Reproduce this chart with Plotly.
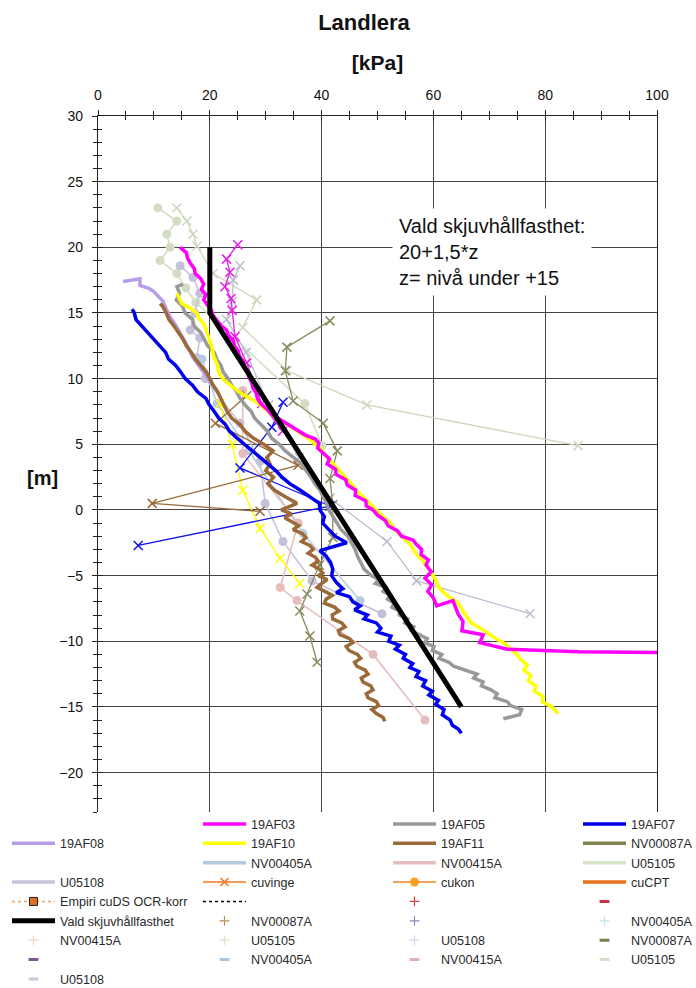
import plotly.graph_objects as go

FONT = "Liberation Sans, Arial, Helvetica, sans-serif"

# ---------------- data: (elevation [m], shear strength [kPa]) ----------------
# CPT-derived profiles
AF03 = [(20.0, 14.7), (19.6, 15.8), (19.2, 16.0), (18.8, 16.5), (18.4, 17.2), (18.0, 17.4),
        (17.6, 18.4), (17.2, 18.9), (16.8, 18.5), (16.4, 19.3), (16.0, 18.9), (15.6, 19.6),
        (15.2, 20.3), (14.8, 20.6), (14.4, 21.3), (14.0, 22.1), (13.7, 23.0), (13.3, 23.3),
        (12.9, 24.2), (12.5, 24.4), (12.1, 25.1), (11.7, 25.3), (11.3, 26.0), (10.9, 26.2),
        (10.5, 26.8), (10.1, 27.0), (9.7, 27.5), (9.3, 27.7), (8.9, 28.3), (8.5, 28.5),
        (8.1, 29.1), (7.7, 30.2), (7.3, 31.0), (6.9, 32.6), (6.6, 33.8), (6.3, 35.0),
        (6.0, 36.2), (5.7, 37.1), (5.4, 38.9), (5.1, 39.5), (4.7, 39.3), (4.3, 40.3),
        (3.9, 41.4), (3.5, 41.0), (3.1, 42.5), (2.7, 42.6), (2.3, 44.3), (1.9, 44.6),
        (1.5, 46.1), (1.1, 46.0), (0.7, 47.9), (0.3, 48.0), (0.0, 49.2), (-0.4, 50.0),
        (-0.8, 51.4), (-1.2, 51.9), (-1.6, 53.6), (-2.0, 54.3), (-2.3, 56.4), (-2.6, 56.9),
        (-3.0, 57.9), (-3.4, 57.8), (-3.8, 59.1), (-4.2, 58.7), (-4.7, 59.6), (-5.2, 58.5),
        (-5.7, 59.7), (-6.2, 59.0), (-6.7, 60.0), (-7.3, 60.6), (-6.9, 63.5), (-7.9, 64.4),
        (-8.5, 65.3), (-9.2, 65.1), (-9.5, 68.9), (-10.1, 68.3), (-10.6, 73.2), (-10.8, 86.0),
        (-10.85, 100.0)]

AF05 = [(17.2, 15.2), (17.0, 14.1), (16.5, 14.6), (16.0, 14.0), (15.5, 15.1), (15.0, 15.6),
        (14.5, 16.9), (14.0, 17.2), (13.5, 18.4), (13.0, 19.0), (12.5, 19.6), (12.0, 20.8),
        (11.5, 21.2), (11.0, 22.0), (10.5, 22.4), (10.0, 23.3), (9.5, 23.9), (9.0, 24.8),
        (8.5, 25.4), (8.0, 26.3), (7.5, 27.4), (7.0, 28.0), (6.5, 29.2), (6.0, 30.3),
        (5.5, 31.0), (5.0, 32.4), (4.5, 33.5), (4.0, 35.0), (3.5, 36.4), (3.0, 37.2),
        (2.5, 38.1), (2.0, 38.8), (1.5, 39.7), (1.0, 40.3), (0.5, 40.9), (0.0, 41.3),
        (-0.5, 42.0), (-1.0, 42.8), (-1.5, 43.5), (-2.0, 44.7), (-2.5, 45.3), (-3.0, 46.0),
        (-3.5, 46.4), (-4.0, 47.0), (-4.5, 47.6), (-5.0, 48.9), (-5.3, 50.2), (-5.6, 49.6),
        (-5.9, 51.5), (-6.2, 51.0), (-6.5, 52.3), (-6.8, 51.8), (-7.1, 53.0), (-7.4, 52.6),
        (-7.7, 54.0), (-8.0, 53.9), (-8.3, 55.4), (-8.6, 54.9), (-8.9, 56.5), (-9.2, 56.1),
        (-9.5, 57.6), (-9.8, 58.9), (-10.1, 58.4), (-10.4, 60.1), (-10.7, 59.8), (-11.0, 61.5),
        (-11.3, 61.0), (-11.6, 62.8), (-11.9, 63.6), (-12.2, 65.6), (-12.5, 67.8), (-12.8, 67.2),
        (-13.1, 68.9), (-13.4, 68.6), (-13.7, 70.3), (-14.0, 71.4), (-14.3, 71.0), (-14.6, 73.2),
        (-14.9, 73.8), (-15.2, 75.8), (-15.6, 75.4), (-15.9, 72.5)]

AF07 = [(15.3, 6.1), (15.0, 6.5), (14.5, 6.8), (14.0, 7.9), (13.5, 9.0), (13.0, 9.9),
        (12.5, 11.0), (12.0, 12.1), (11.5, 12.6), (11.0, 13.9), (10.5, 14.8), (10.0, 15.6),
        (9.5, 16.9), (9.0, 17.8), (8.5, 19.3), (8.0, 19.9), (7.5, 20.8), (7.0, 21.6),
        (6.5, 22.8), (6.0, 23.5), (5.5, 24.8), (5.0, 26.2), (4.5, 27.6), (4.0, 29.0),
        (3.5, 30.4), (3.0, 31.8), (2.5, 32.9), (2.0, 34.3), (1.5, 36.2), (1.0, 38.0),
        (0.5, 39.6), (0.0, 39.7), (-0.5, 40.5), (-1.0, 40.2), (-1.5, 41.3), (-2.0, 42.4),
        (-2.5, 44.5), (-2.8, 42.0), (-3.1, 39.7), (-3.5, 40.8), (-4.0, 41.6), (-4.5, 42.0),
        (-5.0, 41.8), (-5.5, 42.6), (-6.0, 43.8), (-6.3, 42.6), (-6.6, 45.0), (-7.0, 45.6),
        (-7.3, 46.9), (-7.6, 45.9), (-8.0, 48.2), (-8.3, 47.6), (-8.6, 49.8), (-9.0, 50.6),
        (-9.3, 50.0), (-9.6, 52.4), (-10.0, 52.0), (-10.3, 53.9), (-10.6, 53.2), (-11.0, 55.0),
        (-11.3, 54.6), (-11.7, 56.3), (-12.0, 55.8), (-12.3, 57.4), (-12.7, 56.9), (-13.0, 58.6),
        (-13.4, 58.1), (-13.8, 59.8), (-14.1, 59.2), (-14.5, 60.9), (-14.8, 60.4), (-15.2, 61.9),
        (-15.6, 61.6), (-16.0, 63.0), (-16.4, 63.4), (-16.7, 64.5), (-17.0, 65.0)]

AF08 = [(17.4, 4.5), (17.5, 6.0), (17.6, 7.5), (17.1, 7.5), (16.9, 9.0), (16.7, 9.8),
        (16.3, 10.8), (15.9, 11.6), (15.3, 12.2), (14.7, 12.9), (14.0, 14.0), (13.1, 15.2),
        (12.4, 16.1), (11.6, 17.0), (10.8, 18.3), (10.1, 19.5), (9.5, 20.6), (9.0, 21.4)]

AF10 = [(16.5, 14.1), (16.1, 14.6), (15.7, 15.0), (15.4, 16.4), (15.0, 17.7), (14.6, 18.0),
        (14.2, 18.9), (13.8, 19.3), (13.4, 19.6), (13.0, 19.8), (12.6, 20.1), (12.2, 20.5),
        (11.8, 20.6), (11.4, 21.0), (11.0, 21.4), (10.6, 21.5), (10.2, 22.0), (9.8, 22.8),
        (9.4, 23.9), (9.0, 25.2), (8.6, 26.8), (8.2, 28.4), (7.8, 29.6), (7.4, 30.7),
        (7.0, 32.1), (6.6, 33.6), (6.2, 34.9), (5.8, 36.4), (5.4, 37.8), (5.0, 39.0),
        (4.6, 40.0), (4.2, 40.6), (3.8, 41.5), (3.4, 42.3), (3.0, 43.3), (2.6, 44.2),
        (2.2, 44.9), (1.8, 45.7), (1.4, 46.4), (1.0, 47.4), (0.6, 48.3), (0.2, 49.3),
        (-0.2, 50.2), (-0.6, 51.2), (-1.0, 52.4), (-1.4, 52.9), (-1.8, 53.8), (-2.2, 54.9),
        (-2.6, 55.8), (-3.0, 56.4), (-3.4, 57.0), (-3.8, 58.0), (-4.2, 58.6), (-4.6, 59.4),
        (-5.0, 60.0), (-5.4, 60.5), (-5.8, 60.8), (-6.2, 61.6), (-6.6, 62.7), (-7.0, 64.2),
        (-7.4, 64.9), (-7.8, 65.4), (-8.2, 66.1), (-8.6, 66.8), (-9.0, 68.4), (-9.4, 69.8),
        (-9.8, 71.2), (-10.2, 72.9), (-10.6, 73.8), (-11.0, 75.0), (-11.4, 75.6), (-11.8, 76.8),
        (-12.2, 76.2), (-12.6, 77.4), (-13.0, 77.0), (-13.4, 78.3), (-13.8, 78.1), (-14.2, 79.6),
        (-14.6, 79.5), (-15.0, 81.2), (-15.5, 82.3)]

AF11 = [(15.7, 11.1), (15.5, 11.6), (15.0, 12.2), (14.5, 12.7), (14.0, 13.6), (13.5, 14.4),
        (13.0, 15.2), (12.5, 15.8), (12.0, 16.7), (11.5, 17.4), (11.0, 18.4), (10.5, 19.4),
        (10.0, 20.0), (9.5, 20.6), (9.0, 21.4), (8.5, 22.0), (8.0, 22.6), (7.5, 23.1),
        (7.0, 23.9), (6.5, 25.4), (6.0, 26.3), (5.5, 27.7), (5.0, 29.6), (4.5, 31.3),
        (4.0, 30.2), (3.5, 30.8), (3.0, 30.0), (2.5, 31.4), (2.0, 30.4), (1.5, 31.6),
        (1.0, 33.5), (0.5, 35.6), (0.0, 32.8), (-0.3, 34.6), (-0.6, 33.4), (-0.9, 34.8),
        (-1.2, 35.9), (-1.5, 34.9), (-1.8, 36.6), (-2.1, 37.2), (-2.4, 36.4), (-2.7, 37.9),
        (-3.0, 38.5), (-3.3, 37.6), (-3.6, 38.9), (-3.9, 39.4), (-4.2, 38.3), (-4.5, 39.6),
        (-4.8, 40.2), (-5.0, 39.4), (-5.3, 41.0), (-5.6, 40.0), (-5.9, 39.2), (-6.2, 40.6),
        (-6.5, 41.9), (-6.8, 40.8), (-7.1, 40.5), (-7.4, 42.3), (-7.7, 43.1), (-8.0, 41.9),
        (-8.3, 42.0), (-8.6, 43.6), (-8.9, 44.2), (-9.2, 43.0), (-9.5, 43.3), (-9.8, 45.0),
        (-10.1, 45.6), (-10.4, 44.4), (-10.7, 44.9), (-11.0, 46.4), (-11.3, 47.0), (-11.6, 45.9),
        (-11.9, 46.3), (-12.2, 47.8), (-12.5, 48.3), (-12.8, 47.1), (-13.1, 47.4), (-13.4, 48.8),
        (-13.7, 49.2), (-14.0, 48.0), (-14.3, 48.3), (-14.6, 49.8), (-14.9, 50.2), (-15.2, 49.0),
        (-15.5, 49.8), (-15.8, 51.0), (-16.1, 51.3)]

# Field vane tests
VANE_AF03 = [(20.2, 25.0), (19.1, 23.0), (18.1, 23.6), (17.0, 22.7), (16.1, 23.8), (15.2, 24.0),
             (13.2, 24.5), (11.2, 26.6), (8.1, 29.3), (6.0, 33.0)]
VANE_AF07 = [(8.2, 33.1), (6.3, 31.1), (3.2, 25.4), (0.3, 41.5), (-2.7, 7.2)]
VANE_AF10 = [(8.1, 21.8), (5.0, 24.0), (1.5, 25.9), (-1.4, 29.0), (-3.7, 32.6), (-5.6, 36.1)]
VANE_AF11 = [(8.7, 26.6), (6.6, 21.0), (3.4, 35.8), (0.5, 9.7), (-0.1, 29.0)]
VANE_NV87 = [(14.4, 41.5), (12.4, 33.8), (10.6, 33.5), (8.3, 34.9), (6.6, 40.3), (4.5, 42.8),
             (2.4, 41.5), (0.4, 42.0), (-2.1, 42.0), (-4.2, 39.6), (-6.4, 37.4), (-7.7, 36.1),
             (-9.6, 37.9), (-11.6, 39.2)]
VANE_U05105 = [(23.0, 14.1), (22.0, 15.9), (21.0, 17.0), (20.1, 17.7), (18.0, 20.6), (16.0, 28.4),
               (13.9, 25.9), (10.6, 33.8), (8.0, 48.1), (4.9, 85.9)]
VANE_U05108 = [(18.6, 25.4), (17.5, 24.2), (15.9, 24.0), (14.5, 23.0), (12.0, 26.5), (8.0, 30.5),
               (4.0, 36.0), (0.9, 41.5), (-2.4, 51.7), (-5.4, 57.0), (-7.9, 77.3)]

# Laboratory (fall cone) results
CONE_U05105 = [(23.0, 10.7), (22.0, 14.1), (21.0, 12.3), (20.0, 12.9), (19.0, 11.1), (18.0, 14.1),
               (16.9, 15.7), (15.8, 17.5), (8.1, 37.0), (4.9, 40.1)]
CONE_U05108 = [(18.6, 14.7), (17.7, 17.0), (16.5, 18.2), (15.0, 17.3), (13.7, 16.5), (13.1, 18.2),
               (11.6, 17.7), (10.0, 19.2), (6.6, 25.4), (3.7, 29.0), (0.5, 29.9), (-2.4, 33.1),
               (-5.4, 38.3), (-7.9, 50.8)]
CONE_NV405 = [(11.5, 18.6), (8.1, 21.3), (4.5, 27.0), (-1.8, 36.7), (-6.9, 46.9)]
CONE_NV415 = [(9.1, 25.9), (4.3, 25.9), (-1.0, 35.8), (-5.9, 32.6), (-6.9, 35.6), (-11.0, 49.2),
              (-16.0, 58.5)]

# Chosen design strength: 20 kPa above +15, then 20 + 1,5*z
VALD = [(20.0, 20.0), (15.0, 20.0), (-15.0, 65.0)]

X_RANGE = [0, 100]
Y_RANGE = [-23, 30]


def cu_of(pairs):
    return [p[1] for p in pairs]


def z_of(pairs):
    return [p[0] for p in pairs]


fig = go.Figure()

# fall cone series (lines with round markers)
for pairs, col in [(CONE_U05105, "#d3ddc3"), (CONE_U05108, "#c4c0da"),
                   (CONE_NV405, "#b6cbe2"), (CONE_NV415, "#e6bcbc")]:
    fig.add_trace(go.Scatter(x=cu_of(pairs), y=z_of(pairs), mode="lines+markers",
                             line=dict(color=col, width=1.5),
                             marker=dict(symbol="circle", size=9, color=col),
                             showlegend=False, hoverinfo="skip"))

# field vane series (thin lines with x markers)
for pairs, col in [(VANE_U05105, "#cfd6bb"), (VANE_U05108, "#bdbdd2"), (VANE_NV87, "#8a8a5c"),
                   (VANE_AF10, "#ffff00"), (VANE_AF11, "#9a6a3c"), (VANE_AF07, "#1010ee"),
                   (VANE_AF03, "#e61ee6")]:
    fig.add_trace(go.Scatter(x=cu_of(pairs), y=z_of(pairs), mode="lines+markers",
                             line=dict(color=col, width=1.3),
                             marker=dict(symbol="x-thin", size=9, color=col,
                                         line=dict(color=col, width=1.5)),
                             showlegend=False, hoverinfo="skip"))

# CPT profiles (thick lines) - these are also legend entries
cpt = [
    ("19AF08", AF08, "#b79ce8", "legend", 1),
    ("19AF11", AF11, "#9c6a38", "legend3", 1),
    ("19AF05", AF05, "#999999", "legend3", 0),
    ("19AF07", AF07, "#0000ee", "legend4", 0),
    ("19AF10", AF10, "#ffff00", "legend2", 1),
    ("19AF03", AF03, "#ff00ff", "legend2", 0),
]
for name, pairs, col, leg, rank in cpt:
    fig.add_trace(go.Scatter(x=cu_of(pairs), y=z_of(pairs), mode="lines", name=name,
                             line=dict(color=col, width=3.5), legend=leg, legendrank=rank,
                             hoverinfo="skip"))

fig.add_trace(go.Scatter(x=cu_of(VALD), y=z_of(VALD), mode="lines", name="Vald skjuvhållfasthet",
                         line=dict(color="#000000", width=5), legend="legend", legendrank=5,
                         hoverinfo="skip"))


# ---------------- legend-only entries ----------------
def legend_only(legend, rank, name, mode, line=None, marker=None):
    fig.add_trace(go.Scatter(x=[None], y=[None], mode=mode, name=name, legend=legend,
                             legendrank=rank, line=line, marker=marker, hoverinfo="skip"))


def blank(legend, rank):
    legend_only(legend, rank, " ", "lines", line=dict(width=0, color="rgba(0,0,0,0)"))


def thick(legend, rank, name, col):
    legend_only(legend, rank, name, "lines", line=dict(color=col, width=3.5))


def sym(legend, rank, name, symbol, col, size=7, width=1.2):
    legend_only(legend, rank, name, "markers",
                marker=dict(symbol=symbol, size=size, color=col, line=dict(color=col, width=width)))


# column 1
blank("legend", 0)
blank("legend", 2)
thick("legend", 3, "U05108", "#c4c4da")
legend_only("legend", 4, "Empiri cuDS OCR-korr", "lines+markers",
            line=dict(color="#f0a060", width=1.5, dash="dot"),
            marker=dict(symbol="square", size=8, color="#e07020", line=dict(color="#222", width=1)))
sym("legend", 6, "NV00415A", "cross-thin", "#f6d2bf")
sym("legend", 7, " ", "line-ew", "#7a5a8c", size=7, width=3)
sym("legend", 8, "U05108", "line-ew", "#c8c8dc", size=7, width=3)

# column 2
thick("legend2", 2, "NV00405A", "#b6c8dc")
legend_only("legend2", 3, "cuvinge", "lines+markers",
            line=dict(color="#f07820", width=1.5),
            marker=dict(symbol="x-thin", size=8, color="#f07820", line=dict(color="#f07820", width=1.5)))
legend_only("legend2", 4, " ", "lines", line=dict(color="#000000", width=1.5, dash="dot"))
sym("legend2", 5, "NV00087A", "cross-thin", "#c08c58")
sym("legend2", 6, "U05105", "cross-thin", "#dfe3cc")
sym("legend2", 7, "NV00405A", "line-ew", "#a8c4d8", size=7, width=3)

# column 3
thick("legend3", 2, "NV00415A", "#e6bebe")
legend_only("legend3", 3, "cukon", "lines+markers",
            line=dict(color="#f08020", width=1.5),
            marker=dict(symbol="circle", size=9, color="#ffa020"))
sym("legend3", 4, " ", "cross-thin", "#d04444")
sym("legend3", 5, " ", "cross-thin", "#8888c0")
sym("legend3", 6, "U05108", "cross-thin", "#d6d6e6")
sym("legend3", 7, "NV00415A", "line-ew", "#e0b0b0", size=7, width=3)

# column 4
thick("legend4", 1, "NV00087A", "#808050")
thick("legend4", 2, "U05105", "#d8e2c8")
thick("legend4", 3, "cuCPT", "#e87020")
sym("legend4", 4, " ", "line-ew", "#c83040", size=7, width=3)
sym("legend4", 5, "NV00405A", "cross-thin", "#c6e2ea")
sym("legend4", 6, "NV00087A", "line-ew", "#7c7c4c", size=7, width=3)
sym("legend4", 7, "U05105", "line-ew", "#d8dcc8", size=7, width=3)

# overlay axes carry the inward half of the crossing tick marks
fig.add_trace(go.Scatter(x=[None], y=[None], xaxis="x2", yaxis="y2", showlegend=False,
                         hoverinfo="skip"))

# ---------------- layout ----------------
W, H = 696, 988
ML, MR, MT, MB = 98, 39, 116, 176
PW = W - ML - MR


def px_to_paper_x(px):
    return (px - ML) / PW


tickfont = dict(family=FONT, size=14, color="#111")
GRID = "#454545"

legend_common = dict(orientation="v", xanchor="left", yanchor="top", y=0.004,
                     bgcolor="rgba(0,0,0,0)", borderwidth=0, itemwidth=43,
                     font=dict(family=FONT, size=12.6, color="#2a2a2a"),
                     traceorder="normal", itemclick=False, itemdoubleclick=False)

fig.update_layout(
    width=W, height=H,
    margin=dict(l=ML, r=MR, t=MT, b=MB, autoexpand=False),
    paper_bgcolor="white", plot_bgcolor="white",
    title=dict(text="<b>Landlera</b>", x=364 / W, xref="container", xanchor="center",
               y=1 - 22 / H, yref="container", yanchor="middle",
               font=dict(family=FONT, size=22, color="#111")),
    xaxis=dict(range=X_RANGE, side="top", tick0=0, dtick=20, showline=True, linecolor="#222",
               linewidth=1.3, ticks="outside", ticklen=5, tickwidth=1.3, tickcolor="#222",
               minor=dict(dtick=5, ticks="outside", ticklen=4, tickwidth=1.1, tickcolor="#222"),
               showgrid=True, gridcolor=GRID, gridwidth=1.3, zeroline=False,
               tickfont=tickfont, ticklabelstandoff=4, fixedrange=True,
               title=dict(text="<b>[kPa]</b>", font=dict(family=FONT, size=21, color="#111"),
                          standoff=10)),
    xaxis2=dict(range=X_RANGE, overlaying="x", side="top", anchor="y", tick0=0, dtick=20,
                ticks="inside", ticklen=5, tickwidth=1.3, tickcolor="#222",
                minor=dict(dtick=5, ticks="inside", ticklen=4, tickwidth=1.1, tickcolor="#222"),
                showticklabels=False, showgrid=False, zeroline=False, showline=False,
                fixedrange=True),
    yaxis=dict(range=Y_RANGE, tick0=0, dtick=5, showline=True, mirror=True, linecolor="#222",
               linewidth=1.3, ticks="outside", ticklen=5, tickwidth=1.3, tickcolor="#222",
               minor=dict(dtick=1, ticks="outside", ticklen=4, tickwidth=1.1, tickcolor="#222"),
               showgrid=True, gridcolor=GRID, gridwidth=1.3, zeroline=False,
               tickfont=tickfont, ticklabelstandoff=6, fixedrange=True),
    yaxis2=dict(range=Y_RANGE, overlaying="y", side="left", anchor="x", tick0=0, dtick=5,
                ticks="inside", ticklen=5, tickwidth=1.3, tickcolor="#222",
                minor=dict(dtick=1, ticks="inside", ticklen=4, tickwidth=1.1, tickcolor="#222"),
                showticklabels=False, showgrid=False, zeroline=False, showline=False,
                fixedrange=True),
    legend=dict(legend_common, x=px_to_paper_x(7)),
    legend2=dict(legend_common, x=px_to_paper_x(198)),
    legend3=dict(legend_common, x=px_to_paper_x(388)),
    legend4=dict(legend_common, x=px_to_paper_x(578)),
    showlegend=True,
)

fig.add_annotation(x=52.6, y=19.64, xref="x", yref="y",
                   text="Vald skjuvhållfasthet:<br>20+1,5*z<br>z= nivå under +15",
                   showarrow=False, xanchor="left", yanchor="middle", align="left",
                   bgcolor="white", borderpad=6,
                   font=dict(family=FONT, size=20, color="#111"))

fig.add_annotation(x=px_to_paper_x(42), y=(H - MB - 478) / (H - MT - MB), xref="paper", yref="paper",
                   text="<b>[m]</b>", showarrow=False, xanchor="center", yanchor="middle",
                   font=dict(family=FONT, size=20, color="#111"))

fig.write_html("out.html")
